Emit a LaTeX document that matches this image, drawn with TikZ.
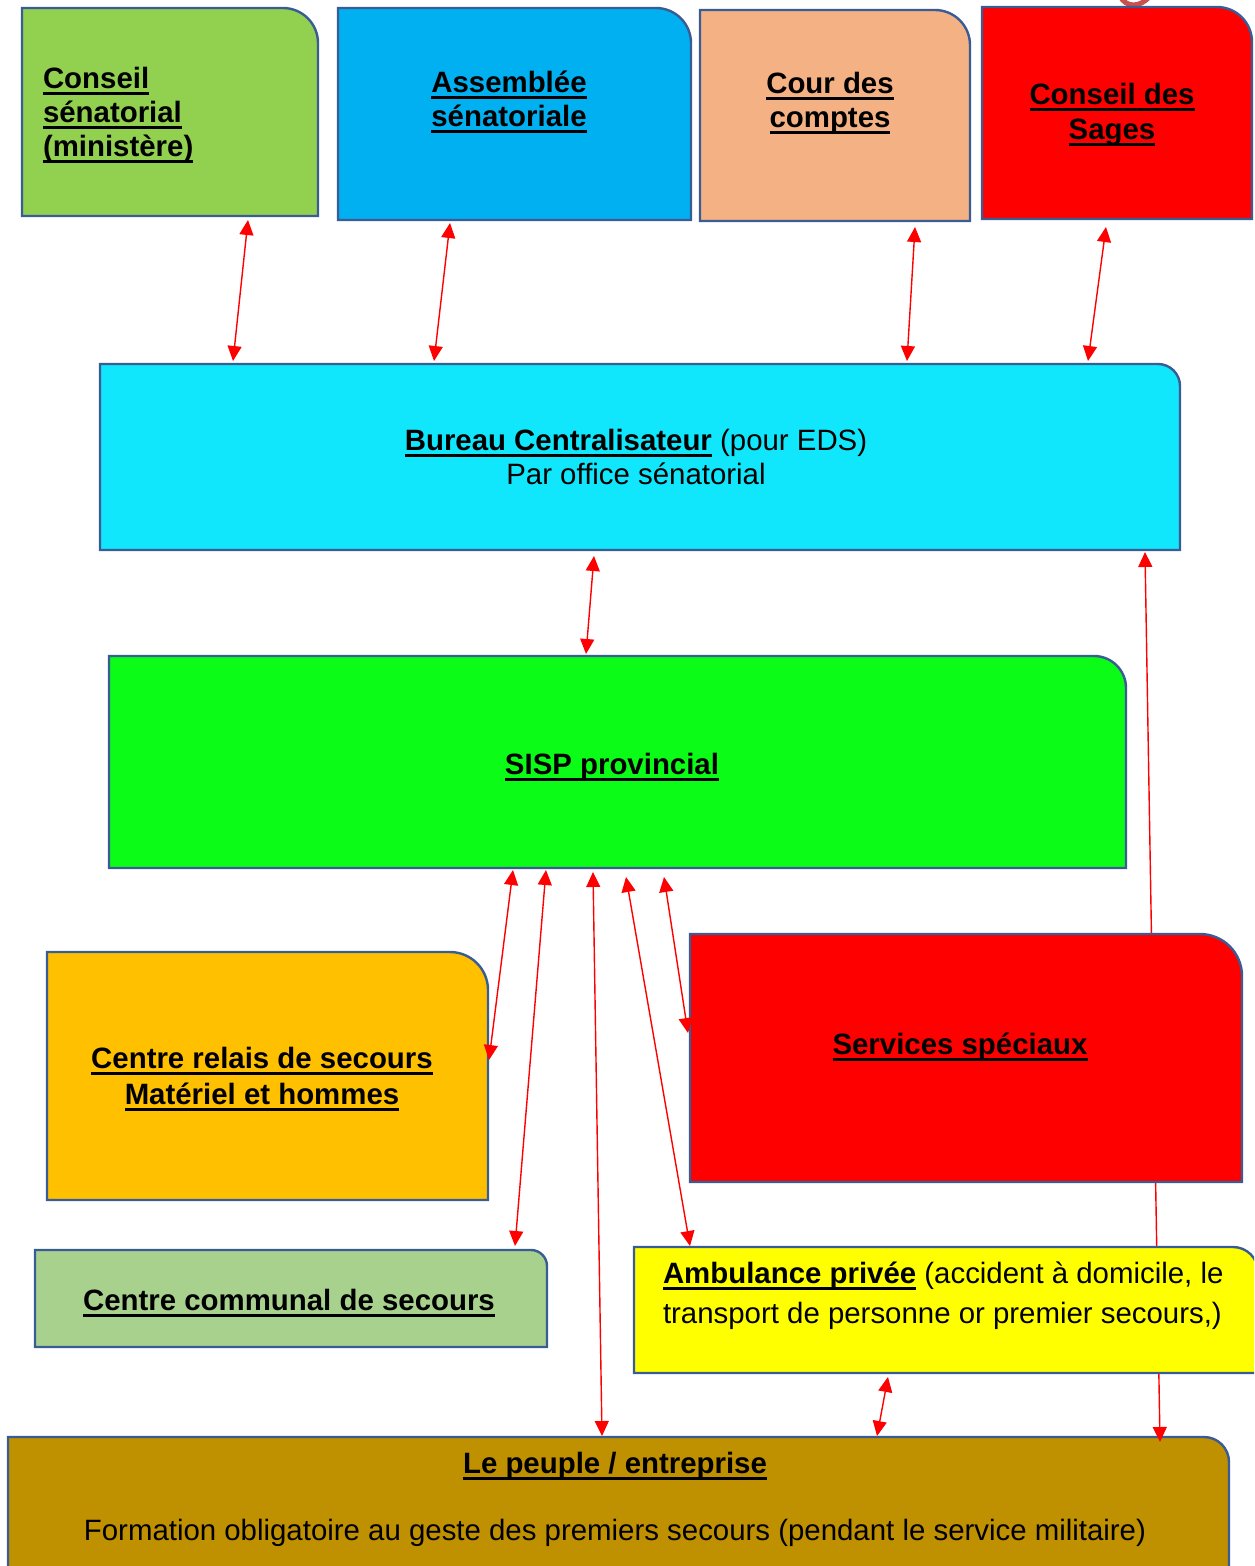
\documentclass[tikz,border=0pt]{standalone}
\usepackage{fontspec}
\setmainfont{Liberation Sans}
\usetikzlibrary{arrows.meta,fit,calc}
\definecolor{cGreenA}{HTML}{92D050}
\definecolor{cBlueA}{HTML}{00B0F0}
\definecolor{cPeach}{HTML}{F4B183}
\definecolor{cRed}{HTML}{FF0000}
\definecolor{cCyan}{HTML}{10E6FC}
\definecolor{cLime}{HTML}{0BFC17}
\definecolor{cOrange}{HTML}{FFC000}
\definecolor{cSage}{HTML}{A9D18E}
\definecolor{cYellow}{HTML}{FFFF00}
\definecolor{cGold}{HTML}{BF9000}
\definecolor{cEdge}{HTML}{3A5C94}
\definecolor{cFrag}{RGB}{200,80,77}
\newsavebox\ulbox
\newcommand\ulx[1]{\sbox\ulbox{#1}\rlap{\rule[-6.5pt]{\wd\ulbox}{3pt}}\usebox\ulbox}
\newcommand\hd[1]{\textbf{\ulx{#1}}}
\tikzset{
  boxline/.style={draw=cEdge, line width=2.4pt},
  link/.style={draw=red, line width=1.4pt, {Triangle[length=15pt,width=14pt]}-{Triangle[length=15pt,width=14pt]}},
  txt/.style={inner sep=0pt, outer sep=0pt, font=\fontsize{29.4}{34}\selectfont, anchor=base},
  txtl/.style={txt, anchor=base west}
}
\newcommand\mkbox[7]{%
  \node[fit={(#2,-#3) (#4,-#5)}, inner sep=0pt, outer sep=0pt] (#1) {};
  \draw[boxline, fill=#7] (#1.south west) -- (#1.north west) -- ([xshift=-#6pt]#1.north east)
    arc[start angle=90, end angle=0, radius=#6pt] -- (#1.south east) -- cycle;
}
\begin{document}
\begin{tikzpicture}[x=1pt,y=1pt]
\useasboundingbox (0,0) rectangle (1254,-1566);
\clip (0,0) rectangle (1254,-1566);
\fill[white] (0,0) rectangle (1254,-1566);

% fragment at top edge
\draw[cFrag, line width=5pt] (1120,4) .. controls (1126,-8) and (1140,-8) .. (1150,4);

% boxes (first layer)
\mkbox{cs}{22}{8}{318}{216}{35}{cGreenA}
\mkbox{as}{338}{8}{691}{220}{35}{cBlueA}
\mkbox{cc}{700}{10}{970}{221}{35}{cPeach}
\mkbox{sg}{982}{7}{1252}{219}{35}{cRed}
\mkbox{bc}{100}{364}{1180}{550}{22}{cCyan}
\mkbox{sisp}{109}{656}{1126}{868}{32}{cLime}
\mkbox{cr}{47}{952}{488}{1200}{38}{cOrange}
\mkbox{ccs}{35}{1250}{547}{1347}{16}{cSage}
\mkbox{pe}{8}{1437}{1229}{1610}{25}{cGold}

% long connector behind the right-hand boxes
\draw[link] ($(bc.south west)+(1045,-2)$) -- ($(pe.north west)+(1152,-5)$);

\mkbox{ss}{690}{934}{1242}{1182}{42}{cRed}
\mkbox{amb}{634}{1247}{1258}{1373}{25}{cYellow}

% texts
\node[txtl] (cs1) at (43,-88) {\hd{Conseil}};
\node[txtl] (cs2) at (43,-122) {\hd{sénatorial}};
\node[txtl] (cs3) at (43,-156) {\hd{(ministère)}};

\node[txt] (as1) at (509,-92) {\hd{Assemblée}};
\node[txt] (as2) at (509,-126) {\hd{sénatoriale}};

\node[txt] (cc1) at (830,-93) {\hd{Cour des}};
\node[txt] (cc2) at (830,-127) {\hd{comptes}};

\node[txt] (sg1) at (1112,-104) {\hd{Conseil des}};
\node[txt] (sg2) at (1112,-139) {\hd{Sages}};

\node[txt] (bc1) at (636,-450) {\hd{Bureau Centralisateur} (pour EDS)};
\node[txt] (bc2) at (636,-484) {Par office sénatorial};

\node[txt] (sisp1) at (612,-774) {\hd{SISP provincial}};

\node[txt] (cr1) at (262,-1068) {\hd{Centre relais de secours}};
\node[txt] (cr2) at (262,-1104) {\hd{Matériel et hommes}};

\node[txt] (ss1) at (960,-1054) {\hd{Services spéciaux}};

\node[txt] (ccs1) at (289,-1310) {\hd{Centre communal de secours}};

\node[txtl] (amb1) at (663,-1283) {\hd{Ambulance privée} (accident à domicile, le};
\node[txtl] (amb2) at (663,-1323) {transport de personne or premier secours,)};

\node[txt] (pe1) at (615,-1473) {\hd{Le peuple / entreprise}};
\node[txt] (pe2) at (615,-1540) {Formation obligatoire au geste des premiers secours (pendant le service militaire)};

% connectors
\draw[link] ($(cs.south west)+(226,-4)$) -- ($(bc.north west)+(133,3)$);
\draw[link] ($(as.south west)+(112,-3)$) -- ($(bc.north west)+(334,3)$);
\draw[link] ($(cc.south west)+(215,-6)$) -- ($(bc.north west)+(807,3)$);
\draw[link] ($(sg.south west)+(124,-8)$) -- ($(bc.north west)+(988,3)$);
\draw[link] ($(bc.south west)+(494,-6)$) -- ($(sisp.north west)+(477,2)$);
\draw[link] ($(sisp.south west)+(404,-2)$) -- ($(cr.east)+(1,16)$);
\draw[link] ($(sisp.south west)+(437,-2)$) -- ($(ccs.north west)+(480,4)$);
\draw[link] ($(sisp.south west)+(484,-4)$) -- ($(pe.north west)+(594,1)$);
\draw[link] ($(sisp.south west)+(517,-9)$) -- ($(amb.north west)+(56,1)$);
\draw[link] ($(sisp.south west)+(555,-9)$) -- ($(ss.west)+(-2,25)$);
\draw[link] ($(amb.south west)+(254,-4)$) -- ($(pe.north west)+(869,1)$);
\end{tikzpicture}
\end{document}
